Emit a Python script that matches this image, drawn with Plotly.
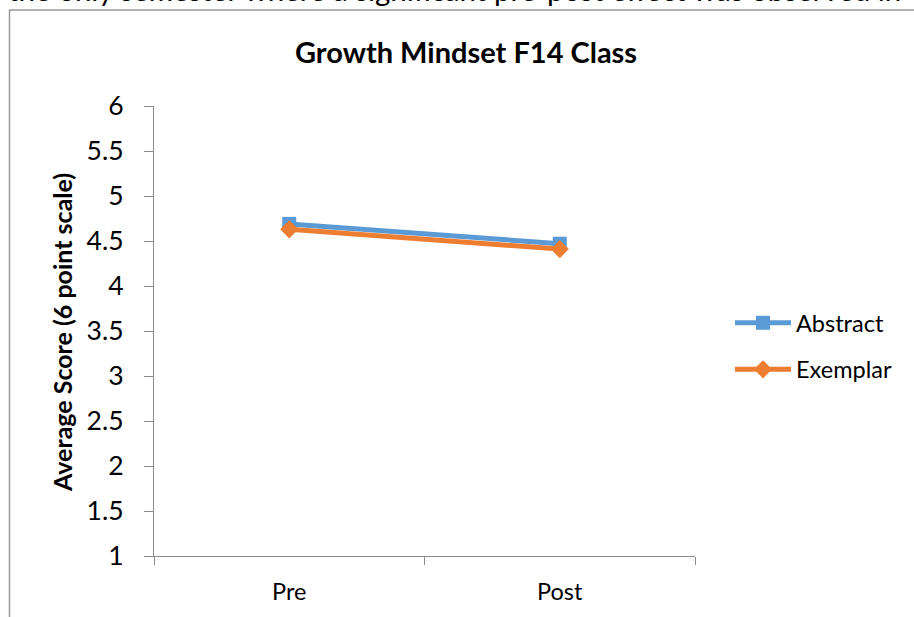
import plotly.graph_objects as go

# Survey means on a 6-point scale, before and after the course
phases = ["Pre", "Post"]
abstract_scores = [4.69, 4.47]
exemplar_scores = [4.63, 4.41]
y_ticks = [1, 1.5, 2, 2.5, 3, 3.5, 4, 4.5, 5, 5.5, 6]
y_tick_text = ["1", "1.5", "2", "2.5", "3", "3.5", "4", "4.5", "5", "5.5", "6"]

W, H = 914, 617
L, R, T, B = 154, 219, 106, 61
PW, PH = W - L - R, H - T - B


def px_x(p):
    return (p - L) / PW


def px_y(p):
    return (H - B - p) / PH


FONT = "Lato, 'Open Sans', sans-serif"
AXIS_GREY = "#8C8C8C"

fig = go.Figure()
fig.add_trace(go.Scatter(
    x=phases, y=abstract_scores, name="Abstract", mode="lines+markers",
    line=dict(color="#5B9BD5", width=5),
    marker=dict(symbol="square", size=14, color="#5B9BD5"),
    legendgroup="a",
))
fig.add_trace(go.Scatter(
    x=phases, y=exemplar_scores, name="Exemplar", mode="lines+markers",
    line=dict(color="#ED7D31", width=5),
    marker=dict(symbol="diamond", size=14, color="#ED7D31"),
    legendgroup="b",
))

fig.update_layout(
    width=W, height=H,
    margin=dict(l=L, r=R, t=T, b=B, autoexpand=False),
    paper_bgcolor="white", plot_bgcolor="white",
    font=dict(family=FONT, color="#000000"),
    showlegend=True,
    legend=dict(
        x=px_x(730), y=px_y(301), xanchor="left", yanchor="top",
        font=dict(size=23.5, family=FONT), itemwidth=56,
        tracegroupgap=13, bgcolor="rgba(0,0,0,0)",
    ),
    xaxis=dict(
        type="category", range=[-0.5, 1.5],
        showline=True, linecolor=AXIS_GREY, linewidth=1.3,
        ticks="outside", ticklen=8, tickcolor=AXIS_GREY, tickwidth=1.3,
        tickson="boundaries", showgrid=False, zeroline=False,
        tickfont=dict(size=23.5, family=FONT), ticklabelstandoff=15,
    ),
    yaxis=dict(
        range=[1, 6], tickvals=y_ticks, ticktext=y_tick_text,
        showline=True, linecolor=AXIS_GREY, linewidth=1.3,
        ticks="outside", ticklen=9, tickcolor=AXIS_GREY, tickwidth=1.3,
        showgrid=False, zeroline=False,
        tickfont=dict(size=26.5, family=FONT), ticklabelstandoff=15,
    ),
)

# Chart frame
fig.add_shape(
    type="rect", xref="paper", yref="paper",
    x0=px_x(9.5), x1=px_x(930), y0=px_y(640), y1=px_y(10),
    line=dict(color="#9A9A9A", width=1.5), fillcolor="rgba(0,0,0,0)",
    layer="below",
)

# Chart title
fig.add_annotation(
    text="<b>Growth Mindset F14 Class</b>", xref="paper", yref="paper",
    x=px_x(466), y=px_y(52), xanchor="center", yanchor="middle",
    showarrow=False, font=dict(size=29, family=FONT),
)

# Vertical axis title
fig.add_annotation(
    text="<b>Average Score (6 point scale)</b>", xref="paper", yref="paper",
    x=px_x(62), y=px_y(333), xanchor="center", yanchor="middle",
    textangle=-90, showarrow=False, font=dict(size=25, family=FONT),
)

# Body text running above the frame
fig.add_annotation(
    text="the only semester where a significant pre-post effect was observed in",
    xref="paper", yref="paper", x=px_x(6), y=px_y(-11),
    xanchor="left", yanchor="middle", showarrow=False,
    font=dict(size=29.5, family=FONT),
)

fig.write_html("out.html")
